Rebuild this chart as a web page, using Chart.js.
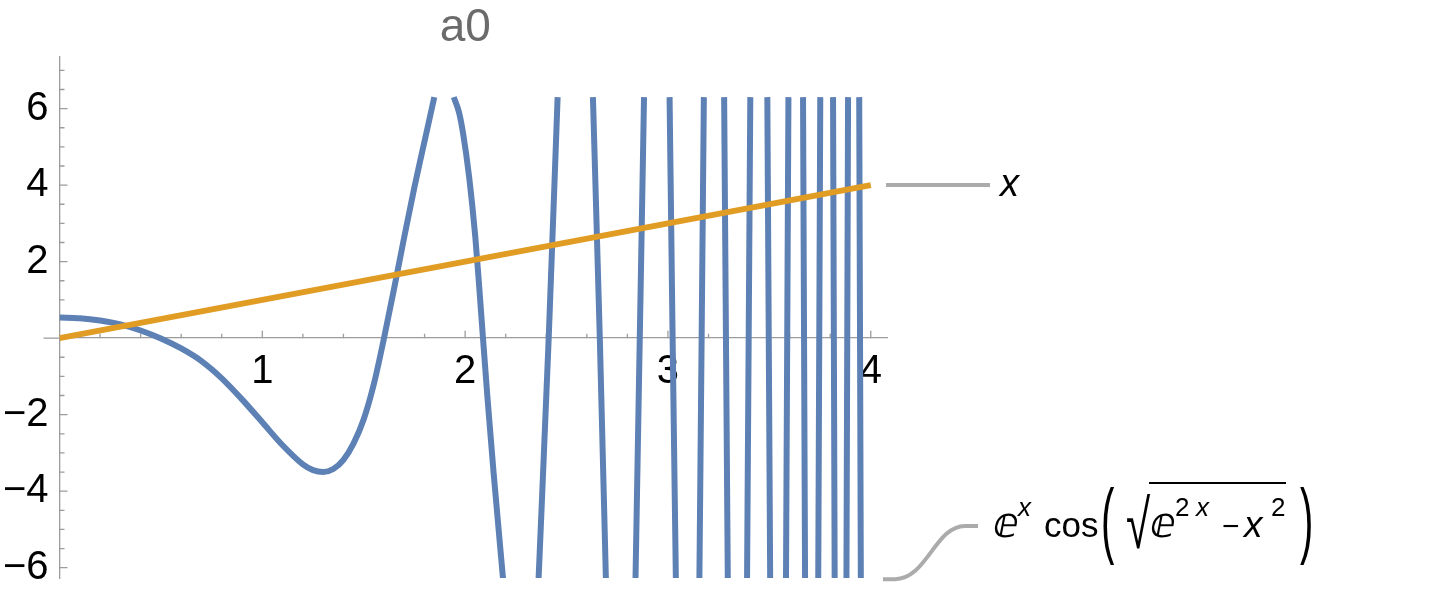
<!DOCTYPE html>
<html>
<head>
<meta charset="utf-8">
<script src="https://cdn.jsdelivr.net/npm/chart.js@4.4.1/dist/chart.umd.min.js"></script>
<style>
  html, body { margin: 0; padding: 0; background: #fff; }
  #chart { display: block; }
</style>
</head>
<body>
<canvas id="chart" width="1440" height="592"></canvas>
<script>
// values (null = curve leaves the plot range)
const blueX = [0, 0.1, 0.2, 0.3, 0.4, 0.5, 0.6, 0.7, 0.8, 0.9, 1.0, 1.1, 1.2, 1.25, 1.3, 1.35, 1.4, 1.45, 1.5, 1.55, 1.6, 1.65, 1.7, 1.75, 1.8, 1.848,
  1.9,
  1.944, 1.97, 1.99, 2.02, 2.05, 2.07, 2.088, 2.11, 2.14, 2.187,
  2.27,
  2.362, 2.412, 2.456,
  2.54,
  2.630, 2.664, 2.694,
  2.77,
  2.840, 2.861, 2.882,
  2.94,
  3.008, 3.023, 3.039,
  3.1,
  3.155, 3.166, 3.177,
  3.22,
  3.277, 3.286, 3.295,
  3.34,
  3.390, 3.398, 3.406,
  3.45,
  3.490, 3.497, 3.504,
  3.54,
  3.582, 3.588, 3.594,
  3.63,
  3.666, 3.671, 3.676,
  3.71,
  3.741, 3.746, 3.751,
  3.78,
  3.814, 3.818, 3.822,
  3.85,
  3.880, 3.884, 3.888,
  3.915,
  3.943, 3.947, 3.951];
const blueY = [0.54, 0.52, 0.46, 0.36, 0.2, -0.01, -0.27, -0.6, -1.05, -1.6, -2.2, -2.8, -3.3, -3.45, -3.5, -3.42, -3.18, -2.75, -2.12, -1.2, 0.0, 1.3, 2.65, 3.95, 5.15, 6.3,
  null,
  6.3, 5.9, 5.35, 4.2, 2.65, 1.3, 0.0, -1.55, -3.5, -6.3,
  null,
  -6.3, 0, 6.3,
  null,
  6.3, 0, -6.3,
  null,
  -6.3, 0, 6.3,
  null,
  6.3, 0, -6.3,
  null,
  -6.3, 0, 6.3,
  null,
  6.3, 0, -6.3,
  null,
  -6.3, 0, 6.3,
  null,
  6.3, 0, -6.3,
  null,
  -6.3, 0, 6.3,
  null,
  6.3, 0, -6.3,
  null,
  -6.3, 0, 6.3,
  null,
  6.3, 0, -6.3,
  null,
  -6.3, 0, 6.3,
  null,
  6.3, 0, -6.3];
const orangeX = [0, 4];
const orangeY = [0, 4];
const xTicks = [1, 2, 3, 4];
const yTicks = [-6, -4, -2, 2, 4, 6];
const seriesNames = ['x', 'ⅇ^x cos(√(ⅇ^(2x) − x^2))'];
const plotTitle = 'a0';

const FONT = '"Liberation Sans", Arial, sans-serif';
const BLUE = '#5E81B5';
const ORANGE = '#E19C24';
const AXIS = '#9c9c9c';

function zip(xs, ys) {
  return xs.map((x, i) => ({ x: x, y: ys[i] }));
}
function near(v, list) {
  return list.some(t => Math.abs(t - v) < 1e-6);
}
function minus(v) {
  return (v < 0 ? '\u2212' : '') + Math.abs(v);
}

// ticks pointing into the plot + small stub of x axis left of origin
const axisTicks = {
  id: 'axisTicks',
  afterLayout(chart) {
    // centre the title over the whole frame (axis stub included)
    if (chart.titleBlock) chart.titleBlock.left = chart.chartArea.left - 16;
  },
  beforeDatasetsDraw(chart) {
    const c = chart.ctx, xs = chart.scales.x, ys = chart.scales.y;
    const y0 = ys.getPixelForValue(0), x0 = xs.getPixelForValue(0);
    c.save();
    c.strokeStyle = AXIS;
    c.lineWidth = 1.3;
    c.beginPath();
    c.moveTo(x0 - 16, y0);
    c.lineTo(x0, y0);
    xs.ticks.forEach(t => {
      if (t.value <= 0) return;
      const px = xs.getPixelForValue(t.value);
      const len = near(t.value, xTicks) ? 7.5 : 4.5;
      c.moveTo(px, y0);
      c.lineTo(px, y0 - len);
    });
    ys.ticks.forEach(t => {
      const py = ys.getPixelForValue(t.value);
      const len = near(t.value, yTicks) ? 8 : 5;
      c.moveTo(x0, py);
      c.lineTo(x0 + len, py);
    });
    c.stroke();
    c.restore();
  }
};

// labels at the right end of each curve
const endLabels = {
  id: 'endLabels',
  afterDraw(chart) {
    const c = chart.ctx, ys = chart.scales.y;
    const right = chart.chartArea.right;
    c.save();
    c.strokeStyle = '#ababab';
    c.lineWidth = 4;
    // leader for x
    const yo = ys.getPixelForValue(orangeY[orangeY.length - 1]);
    c.beginPath();
    c.moveTo(right - 1, yo);
    c.lineTo(right + 103, yo);
    c.stroke();
    // leader for the exp curve
    const yb = ys.getPixelForValue(blueY[blueY.length - 1]);
    const ty = 526;
    c.beginPath();
    c.moveTo(right - 4, yb);
    c.lineTo(right + 8, yb);
    c.bezierCurveTo(right + 40, yb, right + 48, ty, right + 78, ty);
    c.lineTo(right + 91, ty);
    c.stroke();

    c.fillStyle = '#000';
    c.textBaseline = 'alphabetic';
    c.textAlign = 'left';
    c.font = 'italic 38px ' + FONT;
    c.fillText(seriesNames[0], 1000, yo + 11);

    const base = 537;
    const f = (size, style) => (style ? style + ' ' : '') + size + 'px ' + FONT + ', "DejaVu Sans"';
    c.font = f(42);
    c.fillText('ⅇ', 993, base);
    c.font = f(26, 'italic');
    c.fillText('x', 1018, base - 21);
    c.font = f(35);
    c.fillText('cos', 1044, base);
    // tall parentheses
    c.font = f(40);
    c.save(); c.translate(1101, 548); c.scale(1, 2.1); c.fillText('(', 0, 0); c.restore();
    c.save(); c.translate(1300, 548); c.scale(1, 2.1); c.fillText(')', 0, 0); c.restore();
    // radical
    c.font = f(44);
    c.save(); c.translate(1126, 548); c.scale(1, 1.55); c.fillText('√', 0, 0); c.restore();
    c.lineWidth = 2.2;
    c.strokeStyle = '#000';
    c.beginPath(); c.moveTo(1149, 483); c.lineTo(1286, 483); c.stroke();
    c.font = f(42);
    c.fillText('ⅇ', 1150, base);
    c.font = f(26);
    c.fillText('2', 1175, base - 21);
    c.font = f(26, 'italic');
    c.fillText('x', 1196, base - 21);
    c.font = f(30);
    c.fillText('\u2212', 1222, base - 1);
    c.font = f(37, 'italic');
    c.fillText('x', 1244, base);
    c.font = f(26);
    c.fillText('2', 1271, base - 21);
    c.restore();
  }
};

const ctx = document.getElementById('chart').getContext('2d');
const chart = new Chart(ctx, {
  type: 'line',
  data: {
    datasets: [
      {
        label: seriesNames[1],
        data: zip(blueX, blueY),
        borderColor: BLUE,
        borderWidth: 6,
        pointRadius: 0,
        spanGaps: false,
        cubicInterpolationMode: 'monotone',
        borderCapStyle: 'butt',
        order: 2
      },
      {
        label: seriesNames[0],
        data: zip(orangeX, orangeY),
        borderColor: ORANGE,
        borderWidth: 6,
        pointRadius: 0,
        order: 1
      }
    ]
  },
  options: {
    responsive: false,
    animation: false,
    devicePixelRatio: 1,
    layout: { padding: { left: 3.5, right: 553, top: 0, bottom: 14 } },
    plugins: {
      legend: { display: false },
      tooltip: { enabled: false },
      title: {
        display: true,
        text: plotTitle,
        color: '#6b6b6b',
        font: { family: FONT, size: 46, weight: 'normal' },
        padding: { top: 1, bottom: 0 }
      }
    },
    scales: {
      x: {
        type: 'linear',
        min: 0,
        max: 4.08,
        position: { y: 0 },
        afterFit: s => { s.height = 0; s.paddingLeft = 0; s.paddingRight = 0; },
        grid: { display: false, drawTicks: false },
        border: { display: true, color: AXIS, width: 1.3 },
        ticks: {
          stepSize: 0.2,
          autoSkip: false,
          includeBounds: false,
          maxRotation: 0,
          padding: 10,
          color: '#000',
          font: { family: FONT, size: 40 },
          callback: v => near(v, xTicks) ? String(Math.round(v)) : ''
        }
      },
      y: {
        type: 'linear',
        min: -6.27,
        max: 7.37,
        position: 'left',
        afterFit: s => { s.width = 56; s.paddingTop = 0; s.paddingBottom = 0; },
        grid: { display: false, drawTicks: false },
        border: { display: true, color: AXIS, width: 1.3 },
        ticks: {
          stepSize: 0.5,
          autoSkip: false,
          includeBounds: false,
          padding: 11,
          color: '#000',
          font: { family: FONT, size: 40 },
          callback: v => near(v, yTicks) ? minus(Math.round(v)) : ''
        }
      }
    }
  },
  plugins: [axisTicks, endLabels]
});
</script>
</body>
</html>
